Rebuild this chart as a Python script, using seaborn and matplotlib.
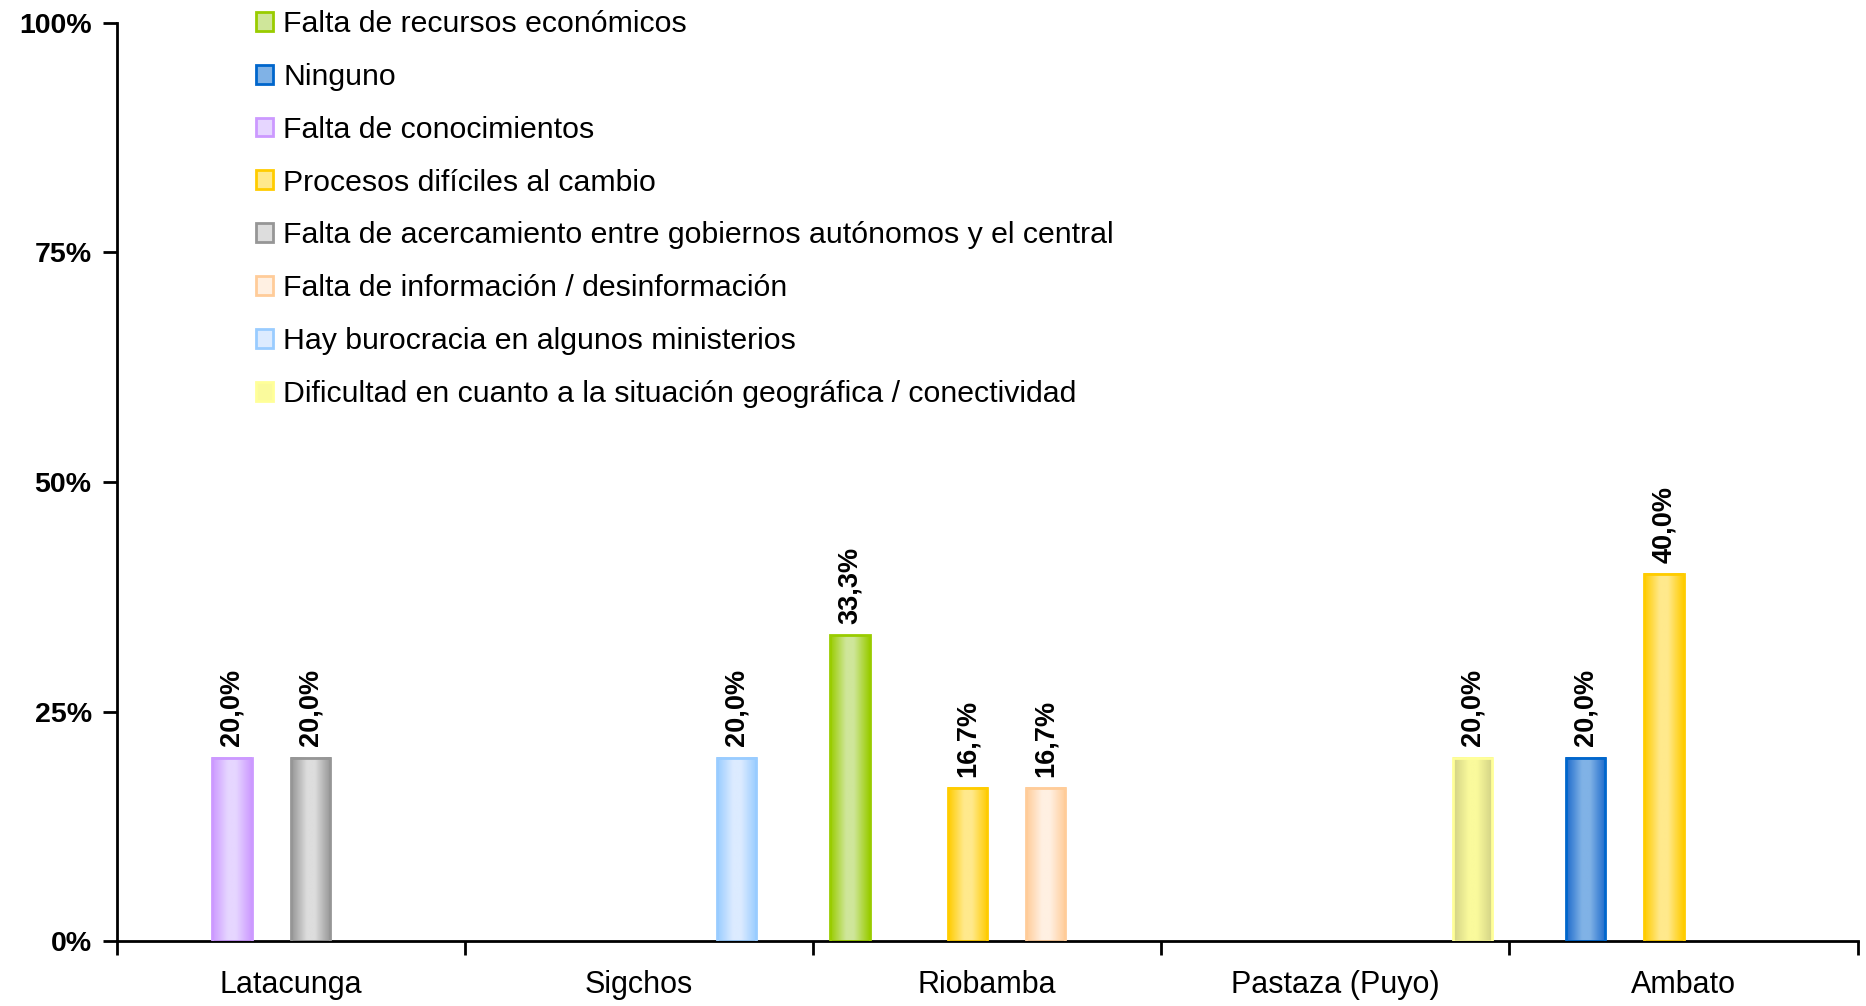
import seaborn as sns
import matplotlib.pyplot as plt
import pandas as pd
import numpy as np
from matplotlib.colors import LinearSegmentedColormap, to_hex
from matplotlib.patches import Patch
from matplotlib.ticker import FixedLocator

sns.set_style("white")
plt.rcParams['font.family'] = ['Liberation Sans', 'DejaVu Sans']
plt.rcParams['text.color'] = 'black'
plt.rcParams['xtick.color'] = 'black'
plt.rcParams['ytick.color'] = 'black'

# data (percent, 0 = no bar)
cities = ["Latacunga", "Sigchos", "Riobamba", "Pastaza (Puyo)", "Ambato"]
problems = [
    "Falta de recursos económicos",
    "Ninguno",
    "Falta de conocimientos",
    "Procesos difíciles al cambio",
    "Falta de acercamiento entre gobiernos autónomos y el central",
    "Falta de información / desinformación",
    "Hay burocracia en algunos ministerios",
    "Dificultad en cuanto a la situación geográfica / conectividad",
]
recursos = [0, 0, 33.3, 0, 0]
ninguno = [0, 0, 0, 0, 20.0]
conocimientos = [20.0, 0, 0, 0, 0]
procesos = [0, 0, 16.7, 0, 40.0]
acercamiento = [20.0, 0, 0, 0, 0]
informacion = [0, 0, 16.7, 0, 0]
burocracia = [0, 20.0, 0, 0, 0]
dificultad = [0, 0, 0, 20.0, 0]
series = [recursos, ninguno, conocimientos, procesos,
          acercamiento, informacion, burocracia, dificultad]

# colours: bar edge / gradient side, gradient centre
edge_colors = ["#99CC00", "#0066CC", "#CC99FF", "#FFCC00",
               "#969696", "#FFCC99", "#99CCFF", "#FFFF99"]
side_colors = ["#99CC00", "#1F6CCC", "#CC99FF", "#FFCC00",
               "#969696", "#FFCC99", "#99CCFF", "#D2D285"]
center_colors = ["#CFE69A", "#80B2E6", "#E6D6FF", "#FFE98C",
                 "#DDDDDD", "#FFF0E2", "#DCEBFF", "#FAFA9C"]

rows = []
for prob, vals in zip(problems, series):
    for city, v in zip(cities, vals):
        if v > 0:
            rows.append({"Ciudad": city, "Problema": prob, "Valor": v})
df = pd.DataFrame(rows)

fig = plt.figure(figsize=(18.66, 10.06), dpi=100)
ax = fig.add_axes([0.0625, 0.0643, 0.933, 0.9132])

sns.barplot(
    data=df, x="Ciudad", y="Valor", hue="Problema",
    order=cities, hue_order=problems,
    palette=dict(zip(problems, edge_colors)), saturation=1,
    width=0.9, gap=0, ax=ax, legend=False,
    linewidth=0, err_kws={"linewidth": 0},
)

# gradient fill on each bar
lookup = {to_hex(e).lower(): i for i, e in enumerate(edge_colors)}
grad = np.linspace(0, 1, 64).reshape(1, -1)
for p in list(ax.patches):
    h = p.get_height()
    if not h or np.isnan(h):
        continue
    i = lookup[to_hex(p.get_facecolor()).lower()]
    cmap = LinearSegmentedColormap.from_list(
        "g%d" % i,
        [(0, side_colors[i]), (0.4, center_colors[i]),
         (0.6, center_colors[i]), (1, side_colors[i])])
    x0, w = p.get_x(), p.get_width()
    ax.imshow(grad, extent=[x0, x0 + w, 0, h], aspect="auto",
              cmap=cmap, zorder=2, interpolation="bilinear")
    p.set_facecolor("none")
    p.set_edgecolor(edge_colors[i])
    p.set_linewidth(2)
    p.set_zorder(3)
    ax.annotate(("%.1f%%" % h).replace(".", ","),
                (x0 + w / 2, h), xytext=(0, 8), textcoords="offset points",
                rotation=90, ha="center", va="bottom",
                fontsize=19.5, fontweight="bold", color="black")

ax.set_xlim(-0.5, 4.5)
ax.set_ylim(0, 100)
ax.set_yticks([0, 25, 50, 75, 100])
ax.set_yticklabels(["0%", "25%", "50%", "75%", "100%"],
                   fontsize=20.5, fontweight="bold")
ax.set_xticks(range(len(cities)))
ax.set_xticklabels(cities, fontsize=22)
ax.xaxis.set_minor_locator(FixedLocator(np.arange(-0.5, 5, 1)))
ax.tick_params(axis="x", which="major", length=0, pad=21)
ax.tick_params(axis="x", which="minor", length=10, width=2,
               direction="out", bottom=True, color="black")
ax.tick_params(axis="y", length=10, width=2, direction="out",
               left=True, color="black", pad=8)
ax.set_xlabel("")
ax.set_ylabel("")
sns.despine(ax=ax)
for s in ["left", "bottom"]:
    ax.spines[s].set_linewidth(2)
    ax.spines[s].set_color("black")

handles = [Patch(facecolor=c, edgecolor=e, linewidth=2)
           for c, e in zip(center_colors, edge_colors)]
leg = fig.legend(handles, problems, loc="upper left",
                 bbox_to_anchor=(0.137, 0.990), frameon=False,
                 fontsize=21.8, handlelength=0.58, handleheight=0.58,
                 handletextpad=0.33, labelspacing=0.82, borderpad=0,
                 borderaxespad=0, labelcolor="black")

fig.savefig("out.png", dpi=100)
plt.close(fig)
